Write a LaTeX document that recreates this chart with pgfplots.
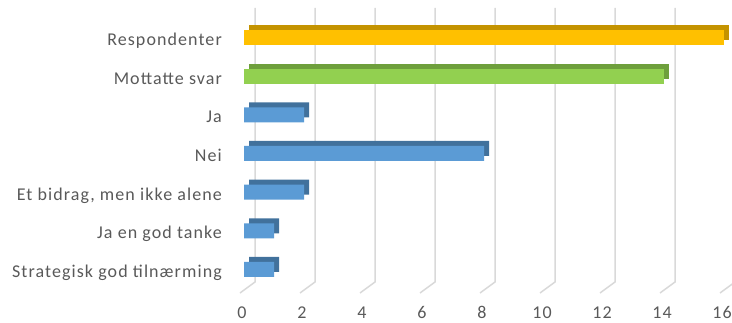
\documentclass[border=0pt]{standalone}
\usepackage{pgfplots}
\pgfplotsset{compat=1.18}
\usepackage{fontspec}
\setmainfont{Carlito}[LetterSpace=6]
\definecolor{txt}{HTML}{595959}
\definecolor{gridc}{HTML}{D9D9D9}
\definecolor{goldF}{HTML}{FFC000}
\definecolor{goldD}{HTML}{C49300}
\definecolor{greenF}{HTML}{92D050}
\definecolor{greenD}{HTML}{6E9F3C}
\definecolor{blueF}{HTML}{5B9BD5}
\definecolor{blueD}{HTML}{41719C}
\begin{document}
\begin{tikzpicture}
\path[use as bounding box] (0,0) rectangle (732bp,323bp);
\begin{axis}[
  at={(244bp,30bp)}, anchor=south west,
  x=30bp, y=38.67bp,
  xmin=0, xmax=16, ymin=-0.608, ymax=6.478,
  clip=false,
  axis line style={draw=none},
  major tick length=0pt,
  tick style={draw=none},
  xtick={0,2,...,16},
  ytick={0,1,2,3,4,5,6},
  yticklabels={Strategisk god tilnærming, Ja en god tanke, {Et bidrag, men ikke alene}, Nei\hspace{4bp}, Ja, Mottatte svar, Respondenter},
  /pgf/number format/assume math mode=true,
  every tick label/.append style={font=\fontsize{18bp}{21bp}\selectfont, text=txt},
  xticklabel style={anchor=base, inner sep=0pt, yshift=-25bp, xshift=-2bp},
  yticklabel style={anchor=base east, inner sep=0pt, xshift=-22bp, yshift=-8bp},
  xbar, bar width=15bp, bar shift=0pt,
]
% back wall grid and floor lines
\pgfplotsinvokeforeach{0,2,...,16}{
  \draw[gridc, line width=1.5bp] ([xshift=-4bp]axis cs:#1,-0.608) -- ([xshift=11bp,yshift=11bp]axis cs:#1,-0.608) -- ([xshift=11bp,yshift=11bp]axis cs:#1,6.478);
}
% depth faces
\addplot[fill=goldD, draw=none, xshift=5bp, yshift=5bp] coordinates {(16,6)};
\addplot[fill=greenD, draw=none, xshift=5bp, yshift=5bp] coordinates {(14,5)};
\addplot[fill=blueD, draw=none, xshift=5bp, yshift=5bp] coordinates {(2,4) (8,3) (2,2) (1,1) (1,0)};
% front faces
\addplot[fill=goldF, draw=none] coordinates {(16,6)};
\addplot[fill=greenF, draw=none] coordinates {(14,5)};
\addplot[fill=blueF, draw=none] coordinates {(2,4) (8,3) (2,2) (1,1) (1,0)};
\end{axis}
\end{tikzpicture}
\end{document}
